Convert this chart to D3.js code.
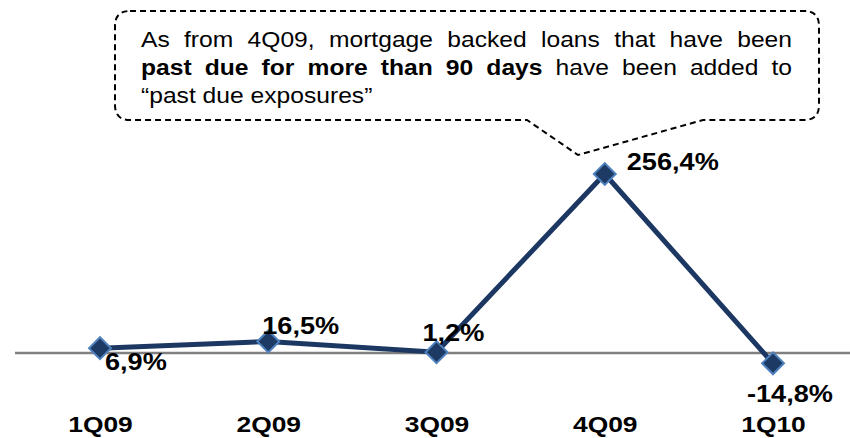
<!DOCTYPE html>
<html>
<head>
<meta charset="utf-8">
<script src="https://cdn.jsdelivr.net/npm/d3@7"></script>
<style>
  html, body { margin: 0; padding: 0; background: #ffffff; }
  svg { display: block; }
</style>
</head>
<body>
<svg id="chart" width="850" height="438"></svg>
<script>
// ---- Data ----
const categories = ["1Q09", "2Q09", "3Q09", "4Q09", "1Q10"];
const values = [6.9, 16.5, 1.2, 256.4, -14.8];
const valueLabels = ["6,9%", "16,5%", "1,2%", "256,4%", "-14,8%"];
const noteLine1 = "As from 4Q09, mortgage backed loans that have been";
const noteLine2Bold = "past due for more than 90 days";
const noteLine2Rest = " have been added to";
const noteLine3 = "\u201Cpast due exposures\u201D";

// ---- Layout ----
const W = 850, H = 438;
const SX = 1.18; // horizontal stretch of the original picture's text
const svg = d3.select("#chart");
const font = "'Liberation Sans', Arial, Helvetica, sans-serif";

const x = d3.scalePoint().domain(categories).range([100, 773]);
const y = d3.scaleLinear().domain([0, 256.4]).range([353, 174]);

// zero line
svg.append("line")
  .attr("x1", 15).attr("x2", W)
  .attr("y1", y(0)).attr("y2", y(0))
  .attr("stroke", "#808080").attr("stroke-width", 2.5);

// series line
const pts = categories.map((c, i) => ({ c, v: values[i], label: valueLabels[i] }));
svg.append("path")
  .datum(pts)
  .attr("fill", "none")
  .attr("stroke", "#1C3862")
  .attr("stroke-width", 5)
  .attr("stroke-linejoin", "miter")
  .attr("d", d3.line().x(d => x(d.c)).y(d => y(d.v)));

// diamond markers
const diamond = d3.symbol().type(d3.symbolSquare).size(240);
svg.selectAll("path.marker")
  .data(pts).enter().append("path")
  .attr("class", "marker")
  .attr("d", diamond)
  .attr("transform", d => `translate(${x(d.c)},${y(d.v)}) rotate(45)`)
  .attr("fill", "#1C3A63")
  .attr("stroke", "#4F81BD")
  .attr("stroke-width", 2);

// value labels (offsets relative to the marker, start-anchored)
const labelOffsets = [[5, 22], [-6, -7], [-14, -11], [22, -4], [-26, 39]];
svg.selectAll("text.vlabel")
  .data(pts).enter().append("text")
  .attr("class", "vlabel")
  .attr("transform", (d, i) => `translate(${x(d.c) + labelOffsets[i][0]},${y(d.v) + labelOffsets[i][1]}) scale(${SX},1)`)
  .attr("font-family", font)
  .attr("font-weight", "bold")
  .attr("font-size", 23)
  .attr("fill", "#000")
  .text(d => d.label);

// category axis labels
const xAxis = d3.axisBottom(x).tickSize(0).tickPadding(0);
const gx = svg.append("g").attr("transform", `translate(0,432)`).call(xAxis);
gx.select(".domain").remove();
gx.selectAll(".tick text")
  .attr("x", 0).attr("y", 0).attr("dy", 0)
  .attr("transform", `scale(1.2,1)`)
  .attr("text-anchor", "middle")
  .attr("font-family", font)
  .attr("font-weight", "bold")
  .attr("font-size", 22)
  .attr("fill", "#000");

// ---- Callout ----
const bx0 = 115, by0 = 11, bx1 = 819, by1 = 120, r = 15;
const pL = 527, pTipX = 578, pTipY = 155, pR = 703;
const calloutPath = [
  `M${bx0 + r},${by0}`,
  `L${bx1 - r},${by0}`,
  `Q${bx1},${by0} ${bx1},${by0 + r}`,
  `L${bx1},${by1 - r}`,
  `Q${bx1},${by1} ${bx1 - r},${by1}`,
  `L${pR},${by1}`,
  `L${pTipX},${pTipY}`,
  `L${pL},${by1}`,
  `L${bx0 + r},${by1}`,
  `Q${bx0},${by1} ${bx0},${by1 - r}`,
  `L${bx0},${by0 + r}`,
  `Q${bx0},${by0} ${bx0 + r},${by0}`,
  "Z"
].join(" ");
svg.append("path")
  .attr("d", calloutPath)
  .attr("fill", "#fff")
  .attr("stroke", "#000")
  .attr("stroke-width", 2)
  .attr("stroke-dasharray", "6,4");

const tx = 141, targetW = 651;
const CS = 1.12;
function noteText(baseline) {
  return svg.append("text")
    .attr("transform", `translate(${tx},${baseline}) scale(${CS},1)`)
    .attr("font-family", font)
    .attr("font-size", 22)
    .attr("fill", "#000");
}
function justify(t, spaces) {
  const len = t.node().getComputedTextLength();
  const ws = (targetW / CS - len) / spaces;
  t.attr("word-spacing", ws);
}
const t1 = noteText(47).text(noteLine1);
justify(t1, noteLine1.split(" ").length - 1);
const t2 = noteText(75);
t2.append("tspan").attr("font-weight", "bold").text(noteLine2Bold);
t2.append("tspan").text(noteLine2Rest);
justify(t2, (noteLine2Bold + noteLine2Rest).split(" ").length - 1);
noteText(103).text(noteLine3);
</script>
</body>
</html>
